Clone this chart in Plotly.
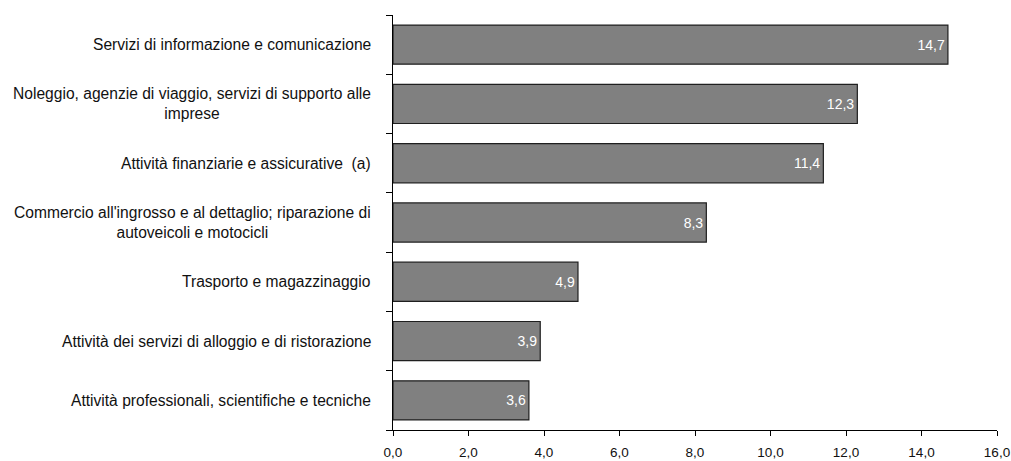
import plotly.graph_objects as go

categories = [
    "Servizi di informazione e comunicazione",
    "Noleggio, agenzie di viaggio, servizi di supporto alle<br>imprese",
    "Attività finanziarie e assicurative  (a)",
    "Commercio all'ingrosso e al dettaglio; riparazione di<br>autoveicoli e motocicli",
    "Trasporto e magazzinaggio",
    "Attività dei servizi di alloggio e di ristorazione",
    "Attività professionali, scientifiche e tecniche",
]
values = [14.7, 12.3, 11.4, 8.3, 4.9, 3.9, 3.6]
x_ticks = [0, 2, 4, 6, 8, 10, 12, 14, 16]

font_family = "Liberation Sans, Arial, sans-serif"

fig = go.Figure()
fig.add_trace(go.Bar(
    y=categories,
    x=values,
    orientation="h",
    marker=dict(color="#808080", line=dict(color="#1f1f1f", width=1.2)),
    width=0.66,
    text=[f"{v:.1f}".replace(".", ",") for v in values],
    textposition="inside",
    insidetextanchor="end",
    textfont=dict(color="white", size=14, family=font_family),
    hoverinfo="skip",
))

for c in categories:
    fig.add_annotation(
        x=0, xref="paper", y=c, yref="y",
        text=c, showarrow=False,
        xanchor="right", align="center", xshift=-20,
        font=dict(size=15.6, color="#111111", family=font_family),
    )

fig.update_layout(
    width=1011, height=461,
    margin=dict(l=393, r=14, t=15, b=31),
    paper_bgcolor="white", plot_bgcolor="white",
    showlegend=False,
    separators=",.",
)
fig.update_xaxes(
    range=[0, 16], tickvals=x_ticks, tickformat=".1f",
    showline=True, linecolor="#000000", linewidth=1.2,
    ticks="outside", ticklen=5, tickcolor="#000000",
    ticklabelstandoff=5,
    showgrid=False, zeroline=False, automargin=False,
    tickfont=dict(size=13.5, color="#111111", family=font_family),
)
fig.update_yaxes(
    categoryorder="array", categoryarray=categories[::-1],
    showticklabels=False,
    showline=True, linecolor="#000000", linewidth=1.2,
    ticks="outside", ticklen=6, tickcolor="#000000", tickson="boundaries",
    showgrid=False, zeroline=False, automargin=False,
)

fig.write_html(
    "out.html",
    config={"displayModeBar": False},
    post_script="document.body.style.margin='0';document.body.style.overflow='hidden';",
)
